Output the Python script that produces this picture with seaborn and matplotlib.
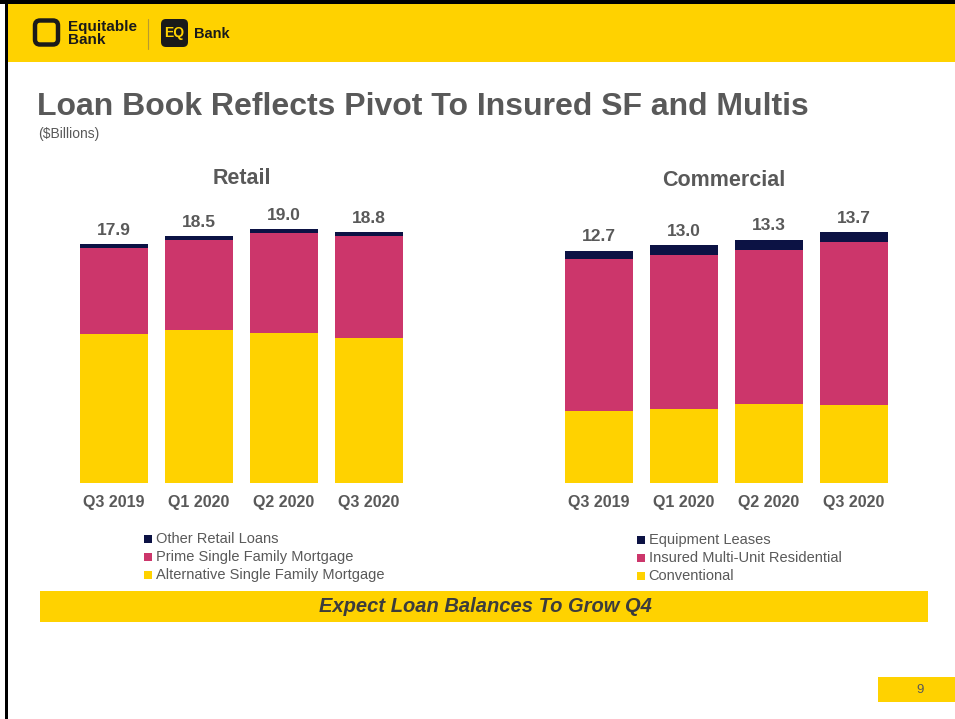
import matplotlib
matplotlib.use("Agg")
import matplotlib.pyplot as plt
import seaborn as sns
import pandas as pd
from matplotlib.patches import Rectangle, FancyBboxPatch

# ---------------- data ----------------
quarters = ["Q3 2019", "Q1 2020", "Q2 2020", "Q3 2020"]

retail_totals = [17.9, 18.5, 19.0, 18.8]
retail_other = [0.30, 0.30, 0.28, 0.30]
retail_prime = [6.42, 6.72, 7.48, 7.62]
retail_alt = [11.18, 11.48, 11.24, 10.88]
retail_labels = ["Other Retail Loans", "Prime Single Family Mortgage",
                 "Alternative Single Family Mortgage"]

comm_totals = [12.7, 13.0, 13.3, 13.7]
comm_equip = [0.48, 0.53, 0.55, 0.55]
comm_insured = [8.30, 8.43, 8.45, 8.89]
comm_conv = [3.92, 4.04, 4.30, 4.26]
comm_labels = ["Equipment Leases", "Insured Multi-Unit Residential", "Conventional"]

title_text = "Loan Book Reflects Pivot To Insured SF and Multis"
subtitle_text = "($Billions)"
banner_text = "Expect Loan Balances To Grow Q4"
page_number = "9"

# ---------------- style ----------------
sns.set_style("white")
plt.rcParams["font.family"] = ["Liberation Sans", "DejaVu Sans"]

YELLOW = "#FFD200"
PINK = "#CC366B"
NAVY = "#0C1244"
GRAY = "#595959"

W, H = 955, 719
fig = plt.figure(figsize=(W / 100, H / 100), dpi=100)
fig.patch.set_facecolor("white")

# background axes in pixel coordinates
bg = fig.add_axes([0, 0, 1, 1], zorder=0)
bg.set_xlim(0, W)
bg.set_ylim(H, 0)
bg.axis("off")

def rect(x0, y0, x1, y1, color, **kw):
    bg.add_patch(Rectangle((x0, y0), x1 - x0, y1 - y0, facecolor=color,
                           edgecolor="none", **kw))

# header band and borders
rect(7, 3, W, 62, YELLOW)
rect(0, 0, W, 4, "black")
rect(4.5, 0, 7.5, H, "black")

# logos
bg.add_patch(FancyBboxPatch((35, 20.5), 23, 24, boxstyle="round,pad=0,rounding_size=5",
                            facecolor="none", edgecolor="#1a1a1a", linewidth=3.2))
bg.text(68, 26.5, "Equitable", fontsize=11, fontweight="bold", color="#1a1a1a",
        va="center", ha="left")
bg.text(68, 40, "Bank", fontsize=11, fontweight="bold", color="#1a1a1a",
        va="center", ha="left")
bg.plot([148, 148], [19, 49], color="#B89A2E", linewidth=0.8)
bg.add_patch(FancyBboxPatch((161, 19), 27, 28, boxstyle="round,pad=0,rounding_size=5",
                            facecolor="#1a1a1a", edgecolor="none"))
bg.text(174.5, 33.5, "EQ", fontsize=10, fontweight="bold", color=YELLOW,
        va="center", ha="center")
bg.text(194, 33.5, "Bank", fontsize=10.5, fontweight="bold", color="#1a1a1a",
        va="center", ha="left")

# title
bg.text(37, 107, title_text, fontsize=23, fontweight="bold", color=GRAY,
        va="center", ha="left")
bg.text(38, 134, subtitle_text, fontsize=10, color=GRAY, va="center", ha="left")

# banner
rect(40, 591, 928, 622, YELLOW)
bg.text(485, 607, banner_text, fontsize=14.5, fontweight="bold", style="italic",
        color="#3C3C3C", va="center", ha="center",
        family=["Liberation Sans Narrow", "Liberation Sans", "DejaVu Sans"])

# page number
rect(878, 677, W, 702, YELLOW)
bg.text(920, 690, page_number, fontsize=9.5, color=GRAY, va="center", ha="center")

# ---------------- charts ----------------
def make_df(bottom, middle, top):
    c1 = list(bottom)
    c2 = [a + b for a, b in zip(bottom, middle)]
    c3 = [a + b for a, b in zip(c2, top)]
    return pd.DataFrame({"quarter": quarters, "seg1": c1, "seg2": c2, "seg3": c3})

def draw_chart(ax, df, totals, ymax):
    for col, colr in (("seg3", NAVY), ("seg2", PINK), ("seg1", YELLOW)):
        sns.barplot(data=df, x="quarter", y=col, color=colr, ax=ax, width=0.8,
                    saturation=1, errorbar=None, linewidth=0)
    for i, v in enumerate(totals):
        ax.annotate(f"{v:.1f}", (i, v), xytext=(0, 4.5), textcoords="offset points",
                    ha="center", va="bottom", fontsize=12.5, fontweight="bold",
                    color=GRAY)
    ax.set_xlim(-0.5, len(quarters) - 0.5)
    ax.set_ylim(0, ymax)
    ax.set_xlabel("")
    ax.set_ylabel("")
    ax.set_yticks([])
    for s in ax.spines.values():
        s.set_visible(False)
    ax.tick_params(axis="x", length=0, pad=9)
    for lab in ax.get_xticklabels():
        lab.set_fontweight("bold")
        lab.set_fontsize(11.5)
        lab.set_color(GRAY)
    ax.set_facecolor("none")

bottom_px = 483
r_ax = fig.add_axes([71.5 / W, (H - bottom_px) / H, 340 / W, (20 * 13.35) / H], zorder=2)
draw_chart(r_ax, make_df(retail_alt, retail_prime, retail_other), retail_totals, 20)

c_ax = fig.add_axes([556.5 / W, (H - bottom_px) / H, 340 / W, (14 * 18.3) / H], zorder=2)
draw_chart(c_ax, make_df(comm_conv, comm_insured, comm_equip), comm_totals, 14)

# chart titles
bg.text(242, 178, "Retail", fontsize=15.5, fontweight="bold", color=GRAY,
        va="center", ha="center")
bg.text(724, 180, "Commercial", fontsize=15.5, fontweight="bold", color=GRAY,
        va="center", ha="center")

# legends
def legend(x_sq, x_txt, ys, labels, colors):
    for y, lab, c in zip(ys, labels, colors):
        rect(x_sq, y - 4, x_sq + 8, y + 4, c)
        bg.text(x_txt, y, lab, fontsize=10.5, color=GRAY, va="center", ha="left")

legend(144, 155.5, [539, 557, 575], retail_labels, [NAVY, PINK, YELLOW])
legend(637, 648.5, [540, 558, 576], comm_labels, [NAVY, PINK, YELLOW])

fig.savefig("out.png", dpi=100)
